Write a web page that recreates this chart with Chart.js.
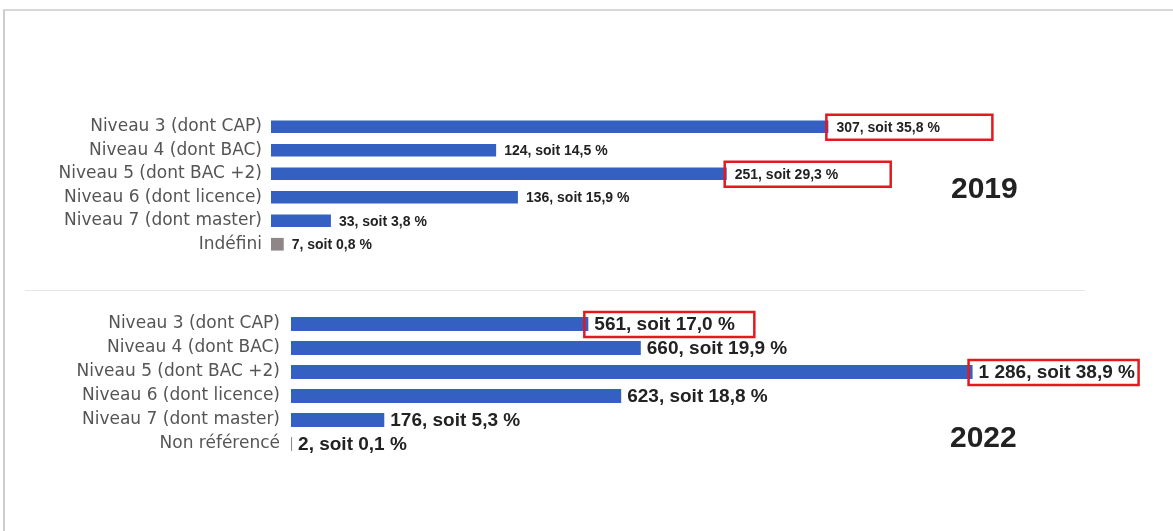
<!DOCTYPE html>
<html lang="fr">
<head>
  <meta charset="UTF-8" />
  <title>Niveaux de diplôme 2019 / 2022</title>
  <script src="https://cdn.jsdelivr.net/npm/chart.js"></script>
  <style>
    html, body { margin: 0; padding: 0; background: #fff; }
    body { width: 1173px; height: 531px; position: relative; overflow: hidden; font-family: 'Liberation Sans', Arial, sans-serif; }
    .frame { position: absolute; left: 3px; top: 9px; right: -4px; bottom: -4px; border-top: 2px solid #d8d8d8; border-left: 2px solid #cdcdcd; }
    .sep { position: absolute; left: 25px; top: 290px; width: 1060px; height: 1px; background: #e6e6e6; }
    .year { position: absolute; font-weight: bold; font-size: 30px; color: #222; }
    .chart { position: absolute; left: 0; width: 1173px; height: 170px; }
  </style>
</head>
<body>
  <div class="frame"></div>
  <div class="sep"></div>
  <div class="chart" style="top:100px"><canvas id="chart2019"></canvas></div>
  <div class="chart" style="top:300px"><canvas id="chart2022"></canvas></div>
  <div class="year" style="left:951px; top:171px">2019</div>
  <div class="year" style="left:950px; top:420px">2022</div>

  <script>
    // 2019
    const categories2019 = ['Niveau 3 (dont CAP)', 'Niveau 4 (dont BAC)', 'Niveau 5 (dont BAC +2)', 'Niveau 6 (dont licence)', 'Niveau 7 (dont master)', 'Indéfini'];
    const values2019 = [307, 124, 251, 136, 33, 7];
    const percents2019 = ['35,8', '14,5', '29,3', '15,9', '3,8', '0,8'];
    const boxed2019 = [0, 2];

    // 2022
    const categories2022 = ['Niveau 3 (dont CAP)', 'Niveau 4 (dont BAC)', 'Niveau 5 (dont BAC +2)', 'Niveau 6 (dont licence)', 'Niveau 7 (dont master)', 'Non référencé'];
    const values2022 = [561, 660, 1286, 623, 176, 2];
    const percents2022 = ['17,0', '19,9', '38,9', '18,8', '5,3', '0,1'];
    const boxed2022 = [0, 2];

    const BLUE = '#3461c1';
    const GREY = '#8d8787';

    function fmt(v) {
      return String(v).replace(/\B(?=(\d{3})+(?!\d))/g, ' ');
    }

    function makeChart(id, labels, values, percents, boxed, o) {
      // value labels + red boxes drawn next to each bar
      const valueLabels = {
        id: 'valueLabels',
        afterDatasetsDraw(chart) {
          const ctx = chart.ctx;
          const bars = chart.getDatasetMeta(0).data;
          ctx.save();
          ctx.font = 'bold ' + o.valueSize + 'px "Liberation Sans", Arial, sans-serif';
          ctx.fillStyle = '#222';
          ctx.textBaseline = 'middle';
          bars.forEach((bar, i) => {
            const x = bar.x + o.gap;
            ctx.fillText(fmt(values[i]) + ', soit ' + percents[i] + ' %', x, bar.y + 1);
            if (boxed.includes(i)) {
              ctx.strokeStyle = '#e3191f';
              ctx.lineWidth = 2.5;
              ctx.strokeRect(x - 10, bar.y - 12, o.boxW, 25);
            }
          });
          ctx.restore();
        }
      };

      return new Chart(document.getElementById(id), {
        type: 'bar',
        data: {
          labels: labels,
          datasets: [{
            data: values,
            backgroundColor: values.map((v, i) => i === values.length - 1 ? GREY : BLUE),
            barPercentage: 1,
            categoryPercentage: o.catPct
          }]
        },
        options: {
          indexAxis: 'y',
          responsive: true,
          maintainAspectRatio: false,
          animation: false,
          layout: { padding: { left: 0, top: o.padTop, bottom: o.padBottom, right: o.padRight } },
          plugins: { legend: { display: false }, tooltip: { enabled: false } },
          scales: {
            x: { display: false, min: 0, max: o.max },
            y: {
              afterFit(scale) {
                scale.width = o.barLeft;
                // let the layout padding alone decide the rows
                scale.paddingTop = 0;
                scale.paddingBottom = 0;
              },
              grid: { display: false, drawTicks: false },
              border: { display: false },
              ticks: {
                padding: o.tickPad,
                color: '#555',
                font: { family: 'DejaVu Sans', size: 17 }
              }
            }
          }
        },
        plugins: [valueLabels]
      });
    }

    makeChart('chart2019', categories2019, values2019, percents2019, boxed2019, {
      barLeft: 271, tickPad: 9, max: 450, padRight: 85, padTop: 15, padBottom: 14,
      catPct: 0.54, valueSize: 14, gap: 8, boxW: 166
    });

    makeChart('chart2022', categories2022, values2022, percents2022, boxed2022, {
      barLeft: 291, tickPad: 11, max: 1500, padRight: 87, padTop: 12, padBottom: 14,
      catPct: 0.58, valueSize: 19, gap: 6, boxW: 170
    });
  </script>
</body>
</html>
